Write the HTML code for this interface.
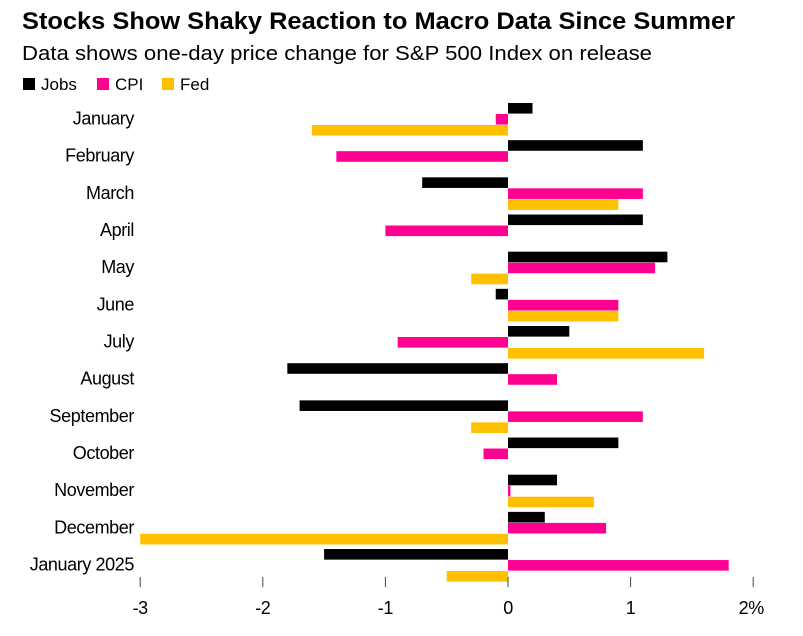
<!DOCTYPE html>
<html><head><meta charset="utf-8"><style>
body{margin:0;background:#fff;font-family:"Liberation Sans",sans-serif;}
svg{display:block}
</style></head><body>
<svg width="803" height="636">
<text x="22" y="29" font-size="24" font-weight="bold" fill="#000" textLength="713" lengthAdjust="spacingAndGlyphs">Stocks Show Shaky Reaction to Macro Data Since Summer</text>
<text x="22" y="60" font-size="20" fill="#000" textLength="630" lengthAdjust="spacingAndGlyphs">Data shows one-day price change for S&amp;P 500 Index on release</text>
<g font-size="17">
<rect x="23" y="78" width="12" height="12" fill="#000"/>
<text x="41" y="90">Jobs</text>
<rect x="97" y="78" width="12" height="12" fill="#ff0090"/>
<text x="115" y="90">CPI</text>
<rect x="162" y="78" width="12" height="12" fill="#ffc000"/>
<text x="180" y="90">Fed</text>
</g>
<g id="plot"></g>
</svg>
<script>
const categories=["January","February","March","April","May","June","July","August","September","October","November","December","January 2025"];
const jobs=[0.2,1.1,-0.7,1.1,1.3,-0.1,0.5,-1.8,-1.7,0.9,0.4,0.3,-1.5];
const cpi=[-0.1,-1.4,1.1,-1.0,1.2,0.9,-0.9,0.4,1.1,-0.2,0.02,0.8,1.8];
const fed=[-1.6,null,0.9,null,-0.3,0.9,1.6,null,-0.3,null,0.7,-3.0,-0.5];
const ticks=[-3,-2,-1,0,1,2];
const tickLabels=["-3","-2","-1","0","1","2%"];
const NS="http://www.w3.org/2000/svg";
const g=document.getElementById('plot');
const x=v=>508+v*122.6;
const yc=i=>118.5+i*37.17;
function mk(t,a){const e=document.createElementNS(NS,t);for(const k in a)e.setAttribute(k,a[k]);g.appendChild(e);return e;}
const series=[[jobs,"#000","jobs"],[cpi,"#ff0090","cpi"],[fed,"#ffc000","fed"]];
categories.forEach((c,i)=>{
  const t=mk('text',{x:134,y:yc(i)+6,'text-anchor':'end','font-size':18,'letter-spacing':'-0.4',fill:'#000'});
  t.textContent=c;
  
  
  series.forEach((s,j)=>{
    const v=s[0][i];if(v===null)return;
    const r=mk('rect',{x:Math.min(x(0),x(v)),y:yc(i)-15.5+j*11,width:Math.max(Math.abs(x(v)-x(0)),1),height:10.6,fill:s[1]});
    
    
  });
});
ticks.forEach((v,k)=>{
  const l=mk('line',{x1:x(v),x2:x(v),y1:577,y2:587,stroke:'#444','stroke-width':1});
  
  
  const t=mk('text',{x:x(v)+(k===5?-2:0),y:614,'text-anchor':'middle','font-size':18,'letter-spacing':'-0.4',fill:'#000'});
  t.textContent=tickLabels[k];
  
  
});
</script>
</body></html>
